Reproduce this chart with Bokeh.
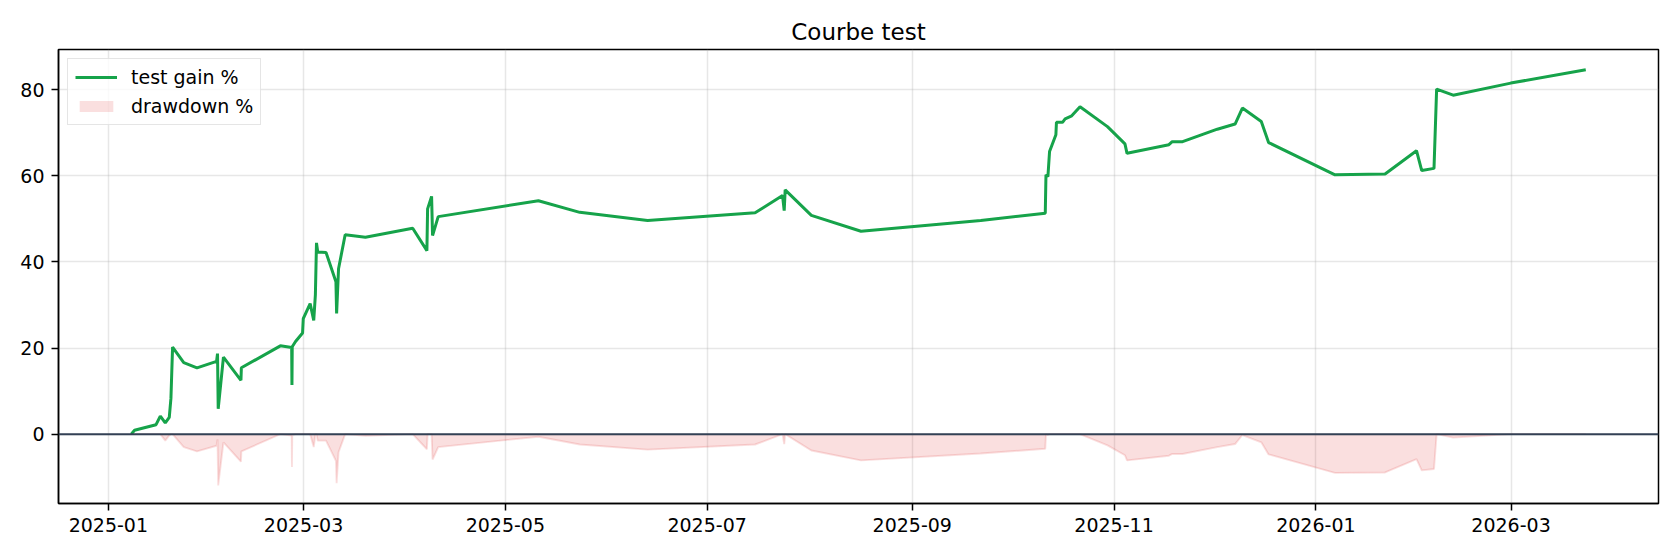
import pandas as pd

from bokeh.embed import file_html
from bokeh.models import (ColumnDataSource, DatetimeTickFormatter, FixedTicker,
                          Legend, LegendItem, Range1d, Span)
from bokeh.plotting import figure
from bokeh.resources import INLINE

dates = [
    "2025-01-07 22:00", "2025-01-08 22:00", "2025-01-15 10:00", "2025-01-16 17:00", "2025-01-18 05:00",
    "2025-01-19 10:00", "2025-01-19 22:00", "2025-01-20 10:00", "2025-01-23 19:00", "2025-01-27 19:00",
    "2025-02-02 17:00", "2025-02-03 00:00", "2025-02-03 05:00", "2025-02-04 19:00", "2025-02-10 02:00",
    "2025-02-10 05:00", "2025-02-22 00:00", "2025-02-25 10:00", "2025-02-25 12:00", "2025-02-25 14:00",
    "2025-02-26 14:00", "2025-02-28 17:00", "2025-02-28 22:00", "2025-03-03 00:00", "2025-03-04 02:00",
    "2025-03-04 14:00", "2025-03-04 22:00", "2025-03-05 07:00", "2025-03-07 19:00", "2025-03-10 19:00",
    "2025-03-11 00:00", "2025-03-11 14:00", "2025-03-13 14:00", "2025-03-19 17:00", "2025-04-03 00:00",
    "2025-04-07 07:00", "2025-04-07 12:00", "2025-04-08 17:00", "2025-04-09 00:00", "2025-04-10 17:00",
    "2025-05-11 00:00", "2025-05-23 12:00", "2025-06-13 00:00", "2025-07-15 12:00", "2025-07-23 19:00",
    "2025-07-24 07:00", "2025-07-24 14:00", "2025-08-01 12:00", "2025-08-16 12:00", "2025-09-21 17:00",
    "2025-10-11 05:00", "2025-10-11 10:00", "2025-10-12 00:00", "2025-10-12 12:00", "2025-10-14 10:00",
    "2025-10-14 14:00", "2025-10-16 10:00", "2025-10-17 05:00", "2025-10-19 05:00", "2025-10-21 17:00",
    "2025-10-30 00:00", "2025-11-04 07:00", "2025-11-04 22:00", "2025-11-17 14:00", "2025-11-18 14:00",
    "2025-11-21 17:00", "2025-12-02 05:00", "2025-12-07 14:00", "2025-12-09 19:00", "2025-12-15 12:00",
    "2025-12-17 17:00", "2026-01-06 19:00", "2026-01-21 22:00", "2026-01-31 10:00", "2026-02-02 00:00",
    "2026-02-05 17:00", "2026-02-06 12:00", "2026-02-11 12:00", "2026-02-28 22:00", "2026-03-23 14:00",
]

gain = [
    0.0, 0.9, 2.2, 4.2, 2.6, 3.9, 8.3, 20.2, 16.6, 15.4,
    16.9, 18.7, 5.9, 17.9, 12.5, 15.4, 20.5, 20.1, 11.4, 20.3,
    21.5, 23.5, 26.8, 30.3, 26.4, 32.4, 44.4, 42.3, 42.2, 35.4,
    28.0, 38.4, 46.3, 45.7, 47.8, 42.6, 52.3, 55.2, 46.1, 50.5,
    54.2, 51.5, 49.6, 51.4, 55.4, 51.9, 56.7, 50.8, 47.1, 49.6,
    51.3, 60.2, 59.8, 65.6, 69.5, 72.4, 72.4, 73.2, 73.9, 76.0,
    71.4, 67.4, 65.2, 67.2, 67.9, 67.9, 70.8, 72.0, 75.7, 72.6,
    67.7, 60.2, 60.4, 65.8, 61.2, 61.7, 80.1, 78.7, 81.5, 84.6,
]

drawdown = [
    0.0, 0.0, 0.0, 0.0, -1.5, -0.3, 0.0, 0.0, -3.0, -4.0,
    -2.7, -1.2, -11.9, -1.9, -6.4, -4.0, 0.0, -0.3, -7.6, -0.2,
    0.0, 0.0, 0.0, 0.0, -3.0, 0.0, 0.0, -1.5, -1.5, -6.2,
    -11.4, -4.2, 0.0, -0.4, 0.0, -3.5, 0.0, 0.0, -5.9, -3.0,
    -0.6, -2.4, -3.6, -2.4, 0.0, -2.3, 0.0, -3.8, -6.1, -4.5,
    -3.4, 0.0, -0.2, 0.0, 0.0, 0.0, 0.0, 0.0, 0.0, 0.0,
    -2.6, -4.9, -6.1, -5.0, -4.6, -4.6, -3.0, -2.3, -0.2, -1.9,
    -4.7, -9.0, -8.9, -5.8, -8.4, -8.1, 0.0, -0.8, 0.0, 0.0,
]

x_ticks = ["2025-01-01", "2025-03-01", "2025-05-01", "2025-07-01",
           "2025-09-01", "2025-11-01", "2026-01-01", "2026-03-01"]
y_ticks = [0, 20, 40, 60, 80]

FONT = "DejaVu Sans"
GREEN = "#16a34a"
RED = "#dc2626"

source = ColumnDataSource(data={
    "date": pd.to_datetime(dates),
    "gain": gain,
    "dd": drawdown,
})

p = figure(
    width=1664,
    height=544,
    x_axis_type="datetime",
    y_range=Range1d(-16.1, 89.3),
    title="Courbe test",
    output_backend="svg",
    toolbar_location=None,
    tools="",
    min_border_left=58,
    min_border_right=6,
    min_border_top=49,
    min_border_bottom=41,
)

p.title.align = "center"
p.title.text_font = FONT
p.title.text_font_size = "23px"
p.title.text_font_style = "normal"
p.title.text_color = "black"

# drawdown area, with a faint edge like fill_between
area = p.varea(x="date", y1="dd", y2=0, source=source,
               fill_color=RED, fill_alpha=0.15)
p.line("date", "dd", source=source, line_color=RED, line_alpha=0.15, line_width=1.9)
gain_line = p.line("date", "gain", source=source, line_color=GREEN, line_width=3)

p.add_layout(Span(location=0, dimension="width", line_color="#334155", line_width=2))

p.xaxis.ticker = FixedTicker(ticks=[pd.Timestamp(t).value // 10**6 for t in x_ticks])
p.xaxis.formatter = DatetimeTickFormatter(
    days="%Y-%m", months="%Y-%m", years="%Y-%m", hours="%Y-%m")
p.yaxis.ticker = FixedTicker(ticks=y_ticks)

for ax in (p.xaxis, p.yaxis):
    ax.axis_line_color = "black"
    ax.axis_line_width = 1.5
    ax.major_tick_line_color = "black"
    ax.major_tick_line_width = 1.5
    ax.major_tick_out = 7
    ax.major_tick_in = 0
    ax.minor_tick_line_color = None
    ax.major_label_text_font = FONT
    ax.major_label_text_font_size = "19px"
    ax.major_label_text_color = "black"
    ax.major_label_standoff = 7

p.outline_line_color = "black"
p.outline_line_width = 1.5
p.grid.grid_line_color = "#b0b0b0"
p.grid.grid_line_alpha = 0.3
p.grid.grid_line_width = 1.5

legend = Legend(
    items=[LegendItem(label="test gain %", renderers=[gain_line]),
           LegendItem(label="drawdown %", renderers=[area])],
    location="top_left",
    margin=9,
    padding=7,
    spacing=7,
    glyph_width=42,
    glyph_height=14,
    label_height=22,
    label_standoff=14,
    label_text_font=FONT,
    label_text_font_size="19px",
    label_text_color="black",
    border_line_color="#cccccc",
    border_line_width=1.5,
    background_fill_alpha=0.8,
)
p.add_layout(legend)

open("out.html", "w").write(file_html(p, INLINE))
